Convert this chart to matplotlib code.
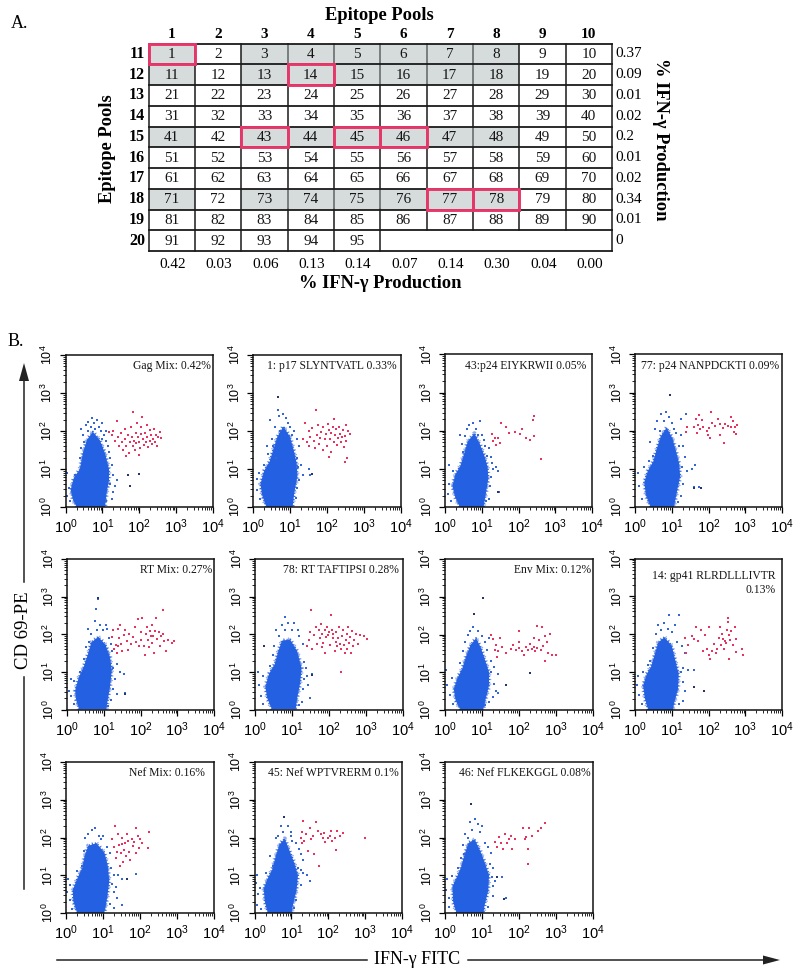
import numpy as np
import matplotlib
matplotlib.use('Agg')
import matplotlib.pyplot as plt
from matplotlib.ticker import LogLocator, NullFormatter

plt.rcParams['font.family'] = ['Liberation Serif', 'DejaVu Serif']
plt.rcParams['mathtext.default'] = 'regular'

# ---- table data
col_pools = [str(i) for i in range(1, 11)]
row_pools = [str(i) for i in range(11, 21)]
row_pct = ['0.37', '0.09', '0.01', '0.02', '0.2', '0.01', '0.02', '0.34', '0.01', '0']
col_pct = ['0.42', '0.03', '0.06', '0.13', '0.14', '0.07', '0.14', '0.30', '0.04', '0.00']
shaded_rows = [0, 1, 4, 7]
shaded_cols = [0, 2, 3, 4, 5, 6, 7]
hit_cells = [1, 14, 43, 45, 46, 77, 78]
n_peptides = 95

# ---- flow panels, values are decades (log10)
titles = ['Gag Mix: 0.42%', '1: p17 SLYNTVATL 0.33%', '43:p24 EIYKRWII 0.05%', '77: p24 NANPDCKTI 0.09%',
          'RT Mix: 0.27%', '78: RT TAFTIPSI 0.28%', 'Env Mix: 0.12%', '14: gp41 RLRDLLLIVTR\n0.13%',
          'Nef Mix: 0.16%', '45: Nef WPTVRERM 0.1%', '46: Nef FLKEKGGL 0.08%']

gag_blob = [(0.3,0),(0.2,0.2),(0.14,0.45),(0.22,0.75),(0.39,1.0),(0.47,1.42),(0.58,1.76),(0.74,1.98),(0.93,1.76),(1.07,1.42),(1.18,1.0),(1.18,0.7),(1.12,0.4),(1.07,0)]
p17_blob = [(0.36,0),(0.25,0.3),(0.2,0.6),(0.3,0.95),(0.45,1.2),(0.56,1.55),(0.66,1.85),(0.82,2.12),(1.0,1.85),(1.1,1.5),(1.18,1.15),(1.2,0.8),(1.12,0.4),(1.07,0)]
p43_blob = [(0.4,0),(0.28,0.25),(0.2,0.55),(0.28,0.85),(0.42,1.08),(0.52,1.4),(0.62,1.72),(0.8,1.93),(0.95,1.65),(1.07,1.35),(1.16,1.05),(1.18,0.75),(1.12,0.4),(1.05,0)]
p77_blob = [(0.42,0),(0.3,0.3),(0.25,0.65),(0.35,0.95),(0.5,1.2),(0.6,1.55),(0.7,1.85),(0.86,2.08),(1.02,1.8),(1.12,1.45),(1.2,1.15),(1.23,0.8),(1.14,0.4),(1.06,0)]
rt_blob = [(0.33,0),(0.25,0.25),(0.22,0.5),(0.32,0.85),(0.46,1.15),(0.58,1.5),(0.66,1.78),(0.85,1.93),(1.05,1.72),(1.17,1.4),(1.22,1.05),(1.17,0.6),(1.1,0.2),(1.07,0)]
rt78_blob = [(0.46,0),(0.33,0.3),(0.28,0.6),(0.38,0.95),(0.53,1.2),(0.63,1.55),(0.73,1.83),(0.95,1.86),(1.14,1.55),(1.26,1.1),(1.22,0.7),(1.14,0.3),(1.1,0)]
env_blob = [(0.43,0),(0.3,0.25),(0.25,0.55),(0.35,0.85),(0.48,1.1),(0.58,1.42),(0.7,1.72),(0.85,1.9),(0.98,1.65),(1.1,1.3),(1.2,1.0),(1.2,0.65),(1.1,0.25),(1.04,0)]
gp41_blob = [(0.36,0),(0.27,0.3),(0.22,0.65),(0.32,0.95),(0.44,1.15),(0.54,1.48),(0.63,1.78),(0.8,1.92),(1.0,1.7),(1.1,1.3),(1.19,0.95),(1.17,0.55),(1.07,0.2),(1.03,0)]
nefm_blob = [(0.3,0),(0.2,0.3),(0.18,0.6),(0.3,0.9),(0.44,1.2),(0.5,1.5),(0.6,1.78),(0.82,1.85),(1.04,1.6),(1.13,1.25),(1.17,0.85),(1.12,0.45),(1.06,0.1),(1.03,0)]
nef45_blob = [(0.36,0),(0.28,0.3),(0.25,0.65),(0.35,0.9),(0.48,1.15),(0.58,1.52),(0.68,1.82),(0.82,1.97),(0.95,1.65),(1.07,1.35),(1.18,1.0),(1.14,0.6),(1.04,0.2),(1.01,0)]
nef46_blob = [(0.31,0),(0.22,0.3),(0.2,0.7),(0.32,0.95),(0.43,1.2),(0.53,1.55),(0.63,1.85),(0.8,1.95),(0.95,1.65),(1.07,1.35),(1.19,1.0),(1.17,0.6),(1.07,0.2),(1.04,0)]

gag_red = [(1.18,1.98),(1.25,1.9),(1.3,2.0),(1.35,1.75),(1.4,2.26),(1.42,1.85),(1.45,1.6),(1.5,1.95),(1.52,1.7),(1.55,1.5),(1.6,2.05),(1.62,1.78),(1.65,1.6),(1.7,1.9),(1.72,1.42),(1.75,1.72),(1.78,2.1),(1.8,1.85),(1.82,1.6),(1.83,2.5),(1.85,1.75),(1.88,1.5),(1.9,1.95),(1.92,1.68),(1.95,2.2),(1.97,1.85),(2.0,1.72),(2.02,1.55),(2.05,2.1),(2.05,1.92),(2.08,2.37),(2.1,1.78),(2.12,1.62),(2.15,1.95),(2.18,1.7),(2.2,2.15),(2.22,1.85),(2.25,1.58),(2.28,1.75),(2.3,2.02),(2.32,1.9),(2.35,1.65),(2.38,1.8),(2.4,2.05),(2.42,1.72),(2.45,1.9),(2.48,1.6),(2.52,1.85),(2.55,1.98),(2.6,1.82),(1.65,1.35),(2.0,1.38)]
p17_red = [(1.35,1.8),(1.4,2.2),(1.45,1.72),(1.5,2.0),(1.52,1.6),(1.55,1.85),(1.6,2.08),(1.65,1.75),(1.68,1.55),(1.7,2.55),(1.72,1.9),(1.75,2.15),(1.78,1.65),(1.8,1.82),(1.85,1.98),(1.88,1.5),(1.9,2.1),(1.95,1.78),(1.98,1.92),(2.0,1.6),(2.02,2.18),(2.05,2.02),(2.08,1.8),(2.1,1.45),(2.12,1.95),(2.15,2.1),(2.18,1.72),(2.2,2.32),(2.22,1.9),(2.25,2.05),(2.28,1.62),(2.3,1.82),(2.32,2.1),(2.35,1.92),(2.38,1.7),(2.4,1.85),(2.42,2.02),(2.45,1.58),(2.48,1.88),(2.5,2.15),(2.52,1.75),(2.55,1.3),(2.58,2.0),(2.62,1.92),(2.48,1.18),(2.05,1.32)]
p43_red = [(1.27,1.92),(1.3,1.72),(1.35,1.82),(1.4,1.62),(1.45,1.8),(1.5,1.68),(1.52,2.2),(1.65,2.1),(1.75,1.95),(1.9,1.98),(2.05,1.92),(2.1,2.05),(2.2,1.82),(2.3,1.75),(2.4,2.28),(2.42,2.38),(2.42,1.85),(2.6,1.25)]
p77_red = [(1.4,1.98),(1.42,2.1),(1.6,2.1),(1.65,2.3),(1.7,1.95),(1.72,2.15),(1.75,2.42),(1.78,2.05),(1.82,2.28),(1.85,2.1),(1.95,2.0),(1.98,1.9),(2.02,2.08),(2.05,1.8),(2.08,2.48),(2.1,2.2),(2.18,2.12),(2.25,2.3),(2.3,1.88),(2.32,2.18),(2.4,2.08),(2.45,2.18),(2.42,1.68),(2.52,2.12),(2.6,2.1),(2.62,2.35),(2.68,2.25),(2.7,1.98),(2.72,2.1),(2.78,2.15),(2.75,1.92)]
rt_red = [(1.22,1.92),(1.25,2.1),(1.28,1.62),(1.32,1.72),(1.35,1.5),(1.38,2.15),(1.4,1.68),(1.42,1.9),(1.45,2.25),(1.48,1.75),(1.5,1.55),(1.55,1.98),(1.58,2.12),(1.62,1.82),(1.65,1.58),(1.7,2.0),(1.75,1.75),(1.8,1.92),(1.85,2.2),(1.88,1.8),(1.92,2.4),(1.95,1.68),(2.0,2.05),(2.02,1.85),(2.05,2.42),(2.1,1.7),(2.12,1.45),(2.15,2.0),(2.18,2.18),(2.2,1.85),(2.22,1.65),(2.25,2.08),(2.28,1.95),(2.3,2.25),(2.32,1.78),(2.35,1.95),(2.38,1.5),(2.4,2.08),(2.42,2.42),(2.45,1.88),(2.5,2.05),(2.52,1.68),(2.55,1.95),(2.6,2.65),(2.62,2.0),(2.65,1.82),(2.7,1.55),(2.75,1.85),(2.85,1.78),(2.92,1.82)]
rt78_red = [(1.4,1.68),(1.45,1.85),(1.5,2.05),(1.52,2.65),(1.55,1.62),(1.6,1.98),(1.65,2.2),(1.68,1.75),(1.72,2.1),(1.75,1.9),(1.78,2.28),(1.8,1.65),(1.82,2.0),(1.85,1.78),(1.88,2.12),(1.9,1.5),(1.92,1.92),(1.95,2.2),(1.98,1.98),(2.0,2.05),(2.02,1.72),(2.05,2.52),(2.08,2.1),(2.1,1.9),(2.12,2.0),(2.15,1.55),(2.18,1.8),(2.2,2.05),(2.22,1.68),(2.25,1.9),(2.28,2.2),(2.3,1.75),(2.32,1.6),(2.35,1.95),(2.38,2.12),(2.4,1.72),(2.42,1.5),(2.45,1.85),(2.48,2.0),(2.5,1.62),(2.52,2.2),(2.55,1.78),(2.58,1.92),(2.6,1.5),(2.62,2.08),(2.65,1.7),(2.68,1.85),(2.72,2.0),(2.78,1.75),(2.85,1.98),(2.95,1.95),(3.03,1.88),(2.32,1.0)]
env_red = [(1.25,2.0),(1.3,1.88),(1.35,1.6),(1.38,1.72),(1.42,1.4),(1.45,1.55),(1.5,1.92),(1.55,1.68),(1.65,1.5),(1.8,1.62),(1.85,1.72),(1.92,1.58),(2.0,1.8),(2.02,1.65),(2.08,1.55),(2.0,2.1),(2.15,1.45),(2.2,1.68),(2.25,1.6),(2.3,1.75),(2.35,1.62),(2.4,1.9),(2.42,1.68),(2.45,1.55),(2.5,1.65),(2.5,2.22),(2.55,1.85),(2.6,1.6),(2.62,2.2),(2.65,1.7),(2.7,1.95),(2.72,1.3),(2.75,1.8),(2.78,1.5),(2.85,2.02),(2.9,1.45),(3.0,1.45)]
gp41_red = [(1.35,1.9),(1.4,1.5),(1.45,1.72),(1.55,1.95),(1.6,1.88),(1.65,2.2),(1.72,1.82),(1.8,2.12),(1.85,1.55),(1.9,1.98),(1.95,1.6),(2.0,2.18),(2.02,1.45),(2.05,1.35),(2.1,1.55),(2.15,1.75),(2.2,1.5),(2.22,1.62),(2.28,1.9),(2.32,2.2),(2.35,1.72),(2.38,2.0),(2.4,1.88),(2.42,1.6),(2.45,1.82),(2.48,1.78),(2.5,2.1),(2.52,2.42),(2.53,2.32),(2.55,1.98),(2.55,1.35),(2.58,1.85),(2.62,2.08),(2.68,1.72),(2.72,2.2),(2.75,1.88),(2.75,1.52),(2.9,1.62),(2.95,1.45)]
nefm_red = [(1.25,1.95),(1.3,1.75),(1.32,2.3),(1.35,1.45),(1.38,1.62),(1.4,2.1),(1.42,1.8),(1.45,1.25),(1.48,1.6),(1.5,2.0),(1.52,1.82),(1.55,1.35),(1.58,1.68),(1.6,1.85),(1.62,1.5),(1.65,2.1),(1.68,1.9),(1.7,1.62),(1.72,1.4),(1.78,1.95),(1.8,1.78),(1.85,1.88),(1.88,2.25),(1.9,1.6),(1.95,2.05),(1.98,1.72),(2.0,1.95),(2.05,1.85),(2.25,2.15),(2.22,1.72)]
nef45_red = [(1.25,2.0),(1.28,1.85),(1.3,2.15),(1.32,2.45),(1.35,1.9),(1.4,2.1),(1.45,1.65),(1.5,2.25),(1.52,1.95),(1.58,2.05),(1.6,1.55),(1.68,2.42),(1.72,2.18),(1.75,1.25),(1.8,2.08),(1.85,1.98),(1.88,2.12),(1.92,1.88),(1.98,2.0),(2.05,2.05),(2.08,2.18),(2.1,1.92),(2.18,2.0),(2.2,1.68),(2.25,2.18),(2.32,2.05),(2.4,2.12),(3.0,1.98)]
nef46_red = [(1.35,1.88),(1.4,1.75),(1.45,2.02),(1.5,1.85),(1.58,1.7),(1.62,2.1),(1.68,1.85),(1.72,1.95),(1.78,2.05),(1.82,1.7),(1.9,1.95),(2.1,2.25),(2.15,1.95),(2.2,2.02),(2.25,1.7),(2.25,1.3),(2.28,2.25),(2.35,2.05),(2.5,2.18),(2.6,2.25),(2.7,2.38)]

gag_blue = [(0.42,2.05),(0.48,1.9),(0.55,2.15),(0.6,2.25),(0.68,2.1),(0.72,2.35),(0.78,2.2),(0.85,2.28),(0.9,2.1),(0.95,2.0),(1.0,2.22),(1.05,1.9),(1.1,1.75),(1.15,1.6),(1.1,2.0),(1.2,1.3),(1.25,1.1),(1.3,0.85),(1.22,0.6),(1.35,0.55),(1.4,0.7),(1.28,0.4),(0.05,0.9),(0.1,0.5),(0.05,0.3),(0.12,0.15),(0.25,0.85),(0.4,1.3),(0.42,1.55),(0.5,1.7),(1.1,0.15),(1.25,0.2),(0.98,1.8),(0.62,2.0),(0.8,2.05),(1.18,1.45)]
p17_blue = [(0.45,2.3),(0.52,1.8),(0.55,1.6),(0.6,2.1),(0.62,1.3),(0.7,2.4),(0.72,2.0),(0.8,2.45),(0.88,2.35),(0.95,2.2),(1.0,2.1),(1.05,1.9),(1.12,2.0),(1.18,1.8),(1.25,1.6),(1.2,1.3),(1.3,1.1),(1.35,0.85),(1.25,0.7),(1.5,1.0),(1.55,0.85),(0.1,0.75),(0.12,0.45),(0.18,0.2),(0.15,0.9),(0.3,1.1),(0.4,1.4),(1.2,0.5),(1.15,0.25),(0.38,1.6),(0.68,2.55),(1.22,1.05)]
p43_blue = [(0.4,1.9),(0.45,1.65),(0.5,1.45),(0.55,1.85),(0.6,2.05),(0.65,2.15),(0.75,2.2),(0.85,2.05),(0.95,2.25),(1.0,1.9),(1.05,1.75),(1.1,1.6),(1.2,1.55),(1.25,1.3),(1.28,1.15),(1.3,1.0),(1.4,1.05),(1.25,0.8),(1.22,0.55),(1.45,0.95),(1.47,0.4),(0.1,1.1),(0.12,0.6),(0.08,0.35),(0.15,0.15),(0.22,0.95),(1.2,0.2),(1.12,0.15),(0.9,1.9),(1.15,1.35)]
p77_blue = [(0.42,1.7),(0.48,1.35),(0.55,2.05),(0.6,2.25),(0.68,2.0),(0.72,2.45),(0.8,2.25),(0.85,2.48),(0.92,2.35),(1.0,2.2),(1.05,2.05),(1.12,1.95),(1.25,2.3),(1.38,2.45),(1.25,1.9),(1.3,1.6),(1.35,1.3),(1.28,1.05),(1.42,0.95),(1.55,1.0),(1.62,1.1),(1.6,0.52),(1.75,0.52),(1.3,0.6),(0.08,0.9),(0.12,0.55),(0.18,0.2),(0.25,1.05),(1.25,0.3),(1.18,0.12),(0.38,1.2),(1.2,1.6)]
rt_blue = [(0.52,1.65),(0.58,2.15),(0.65,2.0),(0.75,2.35),(0.82,2.1),(0.8,2.68),(0.85,2.95),(0.9,2.25),(0.98,2.1),(1.05,2.25),(1.1,2.15),(1.15,1.9),(1.2,1.75),(1.25,1.1),(1.35,1.2),(1.45,1.0),(1.55,0.95),(1.3,0.8),(1.25,0.55),(1.35,0.4),(1.58,0.45),(0.05,0.5),(0.1,0.8),(0.12,0.35),(0.2,0.75),(0.18,0.15),(0.35,1.0),(0.45,1.35),(1.2,0.25),(1.12,0.1),(1.22,1.55),(0.6,1.8)]
rt78_blue = [(0.52,1.7),(0.58,2.1),(0.65,1.95),(0.72,2.25),(0.8,2.1),(0.82,2.45),(0.9,2.3),(1.0,2.12),(1.05,2.3),(1.15,2.1),(1.2,1.95),(1.3,1.75),(1.32,1.25),(1.38,1.1),(1.55,0.95),(1.4,0.9),(1.42,0.65),(1.3,0.55),(1.5,0.3),(0.25,1.68),(0.12,0.65),(0.08,1.0),(0.15,0.35),(0.22,0.15),(0.22,0.9),(0.4,1.15),(0.48,1.45),(1.28,0.2),(1.18,0.12),(1.32,0.8)]
env_blue = [(0.42,1.25),(0.5,1.55),(0.55,1.8),(0.62,2.0),(0.7,2.1),(0.78,2.2),(0.9,2.1),(1.0,1.95),(1.1,1.8),(1.15,1.6),(1.2,1.9),(1.25,1.3),(1.32,1.15),(1.45,0.95),(1.65,0.65),(1.32,0.7),(1.38,0.5),(1.3,0.35),(1.43,0.45),(0.05,1.05),(0.08,0.65),(0.15,0.4),(0.22,0.15),(0.2,0.85),(1.2,0.22),(1.1,0.12),(1.25,1.0)]
gp41_blue = [(0.42,1.3),(0.5,1.65),(0.58,2.0),(0.62,2.25),(0.72,2.1),(0.8,2.3),(0.9,2.15),(0.92,2.5),(1.0,2.05),(1.1,2.25),(1.2,2.5),(1.15,1.8),(1.28,1.7),(1.35,1.5),(1.3,1.1),(1.45,1.05),(1.6,1.05),(1.3,0.75),(1.35,0.5),(1.3,0.25),(0.05,0.65),(0.08,0.9),(0.12,0.4),(0.18,0.15),(0.22,1.0),(0.35,1.2),(1.2,0.15),(1.25,1.0)]
nefm_blue = [(0.42,1.25),(0.48,1.65),(0.52,2.0),(0.6,2.1),(0.7,2.2),(0.78,2.25),(0.88,2.05),(0.95,1.95),(1.0,2.05),(1.1,1.75),(1.18,1.6),(1.22,1.2),(1.3,1.0),(1.4,1.0),(1.52,0.9),(1.9,1.02),(1.25,0.78),(1.3,0.55),(1.38,0.4),(1.5,0.2),(1.3,0.12),(0.05,0.9),(0.02,0.55),(0.1,0.35),(0.1,0.75),(0.15,0.1),(0.3,1.1),(1.2,0.25),(1.35,0.7)]
nef45_blue = [(0.42,1.5),(0.5,1.25),(0.58,2.0),(0.65,2.05),(0.72,2.3),(0.78,2.15),(0.9,2.3),(0.98,2.15),(1.02,1.9),(1.12,1.85),(1.2,1.7),(1.25,1.55),(1.32,1.4),(1.25,1.15),(1.32,1.05),(1.42,1.0),(1.5,0.85),(1.25,0.75),(0.05,0.8),(0.08,1.0),(0.1,0.5),(0.06,0.2),(0.18,0.1),(0.15,0.65),(0.3,1.05),(1.12,0.35),(1.08,0.12),(1.0,2.05),(1.18,1.2)]
nef46_blue = [(0.42,1.45),(0.48,1.8),(0.52,1.55),(0.55,2.1),(0.62,2.0),(0.68,2.4),(0.72,2.2),(0.8,2.5),(0.9,2.35),(0.95,2.15),(1.0,2.3),(1.08,1.85),(1.15,1.75),(1.25,1.6),(1.3,1.2),(1.28,0.95),(1.35,0.85),(1.55,0.95),(1.3,0.72),(1.65,0.4),(1.3,0.45),(0.05,0.9),(0.03,0.6),(0.12,0.4),(0.12,0.15),(0.2,0.98),(0.35,1.2),(1.15,0.15),(1.22,1.3)]

gag_dark = [(1.7,0.85),(2.0,0.88),(1.75,0.55)]
p17_dark = [(0.68,2.9),(1.6,0.88)]
p43_dark = [(1.45,0.4)]
p77_dark = [(0.95,2.95),(1.6,0.5),(1.8,0.5)]
rt_dark = [(0.83,2.97),(1.58,0.42)]
rt78_dark = [(0.25,1.7),(1.55,0.92)]
env_dark = [(1.05,2.98),(0.8,2.55),(1.65,0.65),(2.3,0.97)]
gp41_dark = [(1.6,0.62),(1.88,0.5)]
nefm_dark = [(1.65,0.9)]
nef45_dark = [(0.8,2.55)]
nef46_dark = [(0.7,2.88),(1.6,0.38),(1.4,0.95)]

blobs = [gag_blob, p17_blob, p43_blob, p77_blob, rt_blob, rt78_blob, env_blob, gp41_blob, nefm_blob, nef45_blob, nef46_blob]
reds = [gag_red, p17_red, p43_red, p77_red, rt_red, rt78_red, env_red, gp41_red, nefm_red, nef45_red, nef46_red]
blues = [gag_blue, p17_blue, p43_blue, p77_blue, rt_blue, rt78_blue, env_blue, gp41_blue, nefm_blue, nef45_blue, nef46_blue]
darks = [gag_dark, p17_dark, p43_dark, p77_dark, rt_dark, rt78_dark, env_dark, gp41_dark, nefm_dark, nef45_dark, nef46_dark]

W, H = 800, 974
fig = plt.figure(figsize=(W / 100, H / 100), dpi=100)


def px_axes(left, right, top, bottom):
    return fig.add_axes([left / W, 1 - bottom / H, (right - left) / W, (bottom - top) / H])


# overlay in pixels for the loose labels and arrows
over = fig.add_axes([0, 0, 1, 1], zorder=5)
over.set_xlim(0, W)
over.set_ylim(H, 0)
over.axis('off')
over.patch.set_alpha(0)

# ---- A. table
tab = px_axes(148.5, 612, 43.5, 251)
tab.set_xlim(0, 10)
tab.set_ylim(10, 0)
tab.axis('off')
grey = '#d6dbdb'
pink = '#e5376a'
for r in shaded_rows:
    for c in shaded_cols:
        tab.fill_between([c, c + 1], r, r + 1, color=grey, lw=0, zorder=1)

for c in range(11):
    # last row is merged after peptide 95
    bottom = 10 if c <= 5 or c == 10 else 9
    tab.plot([c, c], [0, bottom], color='#1a1a1a', lw=1.1, zorder=2, clip_on=False, solid_capstyle='projecting')
for r in shaded_rows:
    # separators between neighbouring grey cells are fainter
    for c in shaded_cols[2:]:
        tab.plot([c, c], [r + 0.05, r + 0.95], color='#8b9292', lw=1.1, zorder=2)
for r in range(11):
    tab.plot([0, 10], [r, r], color='#1a1a1a', lw=1.3, zorder=2, clip_on=False, solid_capstyle='projecting')

for n in range(1, n_peptides + 1):
    r, c = (n - 1) // 10, (n - 1) % 10
    tab.text(c + 0.5, r + 0.53, str(n), ha='center', va='center', fontsize=11, color='#151515', zorder=4)

for n in hit_cells:
    r, c = (n - 1) // 10, (n - 1) % 10
    tab.plot([c, c + 1, c + 1, c, c], [r, r, r + 1, r + 1, r], color=pink, lw=2.1, zorder=3, clip_on=False,
             solid_joinstyle='miter')

for i, lab in enumerate(col_pools):
    tab.text(i + 0.5, -0.42, lab, ha='center', va='center', fontsize=11, fontweight='bold')
    tab.text(i + 0.52, 10.63, col_pct[i], ha='center', va='center', fontsize=11)
for i, lab in enumerate(row_pools):
    tab.text(-0.25, i + 0.5, lab, ha='center', va='center', fontsize=11.5, fontweight='bold')
    tab.text(10.07, i + 0.5, row_pct[i], ha='left', va='center', fontsize=11)

over.text(379, 15, 'Epitope Pools', ha='center', va='center', fontsize=13.3, fontweight='bold')
over.text(380, 284, '% IFN-γ Production', ha='center', va='center', fontsize=13.3, fontweight='bold')
over.text(108, 149, 'Epitope Pools', ha='center', va='center', fontsize=13.3, fontweight='bold', rotation=90)
over.text(660, 139, '% IFN-γ Production', ha='center', va='center', fontsize=13.3, fontweight='bold', rotation=270)
over.text(11, 23, 'A.', ha='left', va='center', fontsize=13)
over.text(8, 342, 'B.', ha='left', va='center', fontsize=13)

# ---- B. flow panels
panel_boxes = [(65.5, 213, 355, 507), (253, 401, 355, 507), (445, 592, 354.5, 507), (635, 782, 354.5, 507),
               (67, 214, 559, 709.5), (255, 403, 559, 709.5), (444.5, 593, 559, 710), (635, 782, 558.5, 710),
               (66, 214, 762, 913), (254.5, 402, 762, 913), (445, 593, 762, 913)]
title_x = [0.985, 0.973, 0.96, 0.98, 0.99, 0.97, 0.987, 0.96, 0.94, 0.98, 0.985]

for i, box in enumerate(panel_boxes):
    ax = px_axes(*box)
    ax.set_xscale('log')
    ax.set_yscale('log')
    ax.set_xlim(1, 1e4)
    ax.set_ylim(1, 1e4)

    blob = 10 ** np.array(blobs[i])
    ax.fill(blob[:, 0], blob[:, 1], color='#2360e2', lw=0, zorder=2)
    # dotted rim so the solid cloud breaks up at its edge
    ax.plot(blob[:, 0], blob[:, 1], color='#2f64dc', lw=1.6, linestyle=(0, (0.5, 0.9)), zorder=2)
    ax.plot(blob[:, 0], blob[:, 1], color='#2f64dc', lw=3.2, linestyle=(0, (0.25, 0.8)), alpha=0.55, zorder=1)
    pts = 10 ** np.array(blues[i])
    ax.scatter(pts[:, 0], pts[:, 1], s=1.2, marker='s', color='#3566d6', lw=0, zorder=2)
    pts = 10 ** np.array(reds[i])
    ax.scatter(pts[:, 0], pts[:, 1], s=1.2, marker='s', color='#e8335f', lw=0, zorder=3)
    pts = 10 ** np.array(darks[i])
    ax.scatter(pts[:, 0], pts[:, 1], s=1.2, marker='s', color='#26346e', lw=0, zorder=3)

    for sp in ax.spines.values():
        sp.set_linewidth(1.1)
        sp.set_color('#111111')
    ax.xaxis.set_major_locator(LogLocator(base=10, numticks=6))
    ax.yaxis.set_major_locator(LogLocator(base=10, numticks=6))
    ax.xaxis.set_minor_locator(LogLocator(base=10, subs=np.arange(2, 10), numticks=6))
    ax.yaxis.set_minor_locator(LogLocator(base=10, subs=np.arange(2, 10), numticks=6))
    ax.xaxis.set_minor_formatter(NullFormatter())
    ax.yaxis.set_minor_formatter(NullFormatter())
    ax.tick_params(axis='both', which='major', length=4.5, width=0.9, pad=3)
    ax.tick_params(axis='both', which='minor', length=2, width=0.6)
    ax.tick_params(axis='x', labelsize=10.5)
    ax.tick_params(axis='y', labelsize=9)
    for lab in ax.get_xticklabels():
        lab.set_family(['Liberation Sans', 'DejaVu Sans'])
    for lab in ax.get_yticklabels():
        lab.set_family(['Liberation Sans', 'DejaVu Sans'])
        lab.set_rotation(90)
        lab.set_va('center')

    ax.text(title_x[i], 0.925, titles[i], transform=ax.transAxes, ha='right', va='top' if '\n' in titles[i] else 'center',
            fontsize=8.4, color='#151515', linespacing=1.25)

# axis arrows
line = dict(color='#222222', lw=1.1)
over.plot([24, 24], [381, 582], **line)
over.plot([24, 24], [677, 889], **line)
over.fill([24, 19, 29], [363, 381, 381], color='#222222', lw=0)
over.text(24, 630, 'CD 69-PE', rotation=90, ha='center', va='center', fontsize=13.5)
over.plot([57, 367], [960, 960], **line)
over.plot([468, 765], [960, 960], **line)
over.fill([780, 763, 763], [960, 955.5, 964.5], color='#222222', lw=0)
over.text(417.5, 960, 'IFN-γ FITC', ha='center', va='center', fontsize=13)

fig.savefig('out.png', dpi=100)
